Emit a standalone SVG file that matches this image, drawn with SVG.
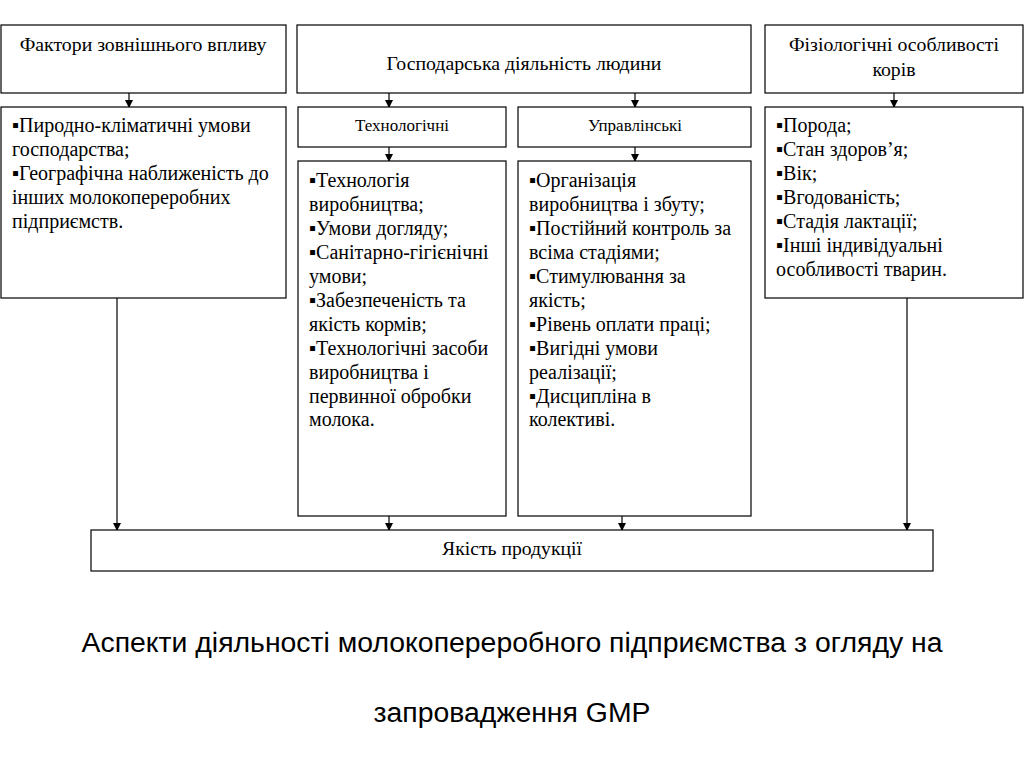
<svg xmlns="http://www.w3.org/2000/svg" width="1024" height="768" viewBox="0 0 1024 768">
<defs>
<marker id="ah" markerWidth="8" markerHeight="8" refX="7" refY="4" orient="auto" markerUnits="userSpaceOnUse">
<path d="M0,0 L8,4 L0,8 Z" fill="#000"/>
</marker>
<style>
rect{fill:#fff;stroke:#000;stroke-width:1.2}
.h{font-family:"Liberation Serif","Times New Roman",serif;font-size:19.8px;fill:#000;text-anchor:middle}
.s{font-family:"Liberation Serif","Times New Roman",serif;font-size:17px;fill:#000;text-anchor:middle}
.l{font-family:"Liberation Serif","Times New Roman",serif;font-size:20px;fill:#000}
.q{font-family:"Liberation Serif","Times New Roman",serif;font-size:19px;fill:#000;text-anchor:middle}
.c{font-family:"Liberation Sans",Arial,sans-serif;font-size:28.4px;fill:#000;text-anchor:middle}
.cn line{stroke:#000;stroke-width:1.2;marker-end:url(#ah)}
</style>
</defs>
<rect x="0" y="0" width="1024" height="768" style="fill:#fff;stroke:none"/>
<g class="cn">
<line x1="129" y1="93" x2="129" y2="107"/>
<line x1="389" y1="93" x2="389" y2="107"/>
<line x1="635" y1="93" x2="635" y2="107"/>
<line x1="894" y1="93" x2="894" y2="107"/>
<line x1="389" y1="147" x2="389" y2="161"/>
<line x1="635" y1="147" x2="635" y2="161"/>
<line x1="117" y1="298" x2="117" y2="530"/>
<line x1="389" y1="516" x2="389" y2="530"/>
<line x1="622" y1="516" x2="622" y2="530"/>
<line x1="907" y1="298" x2="907" y2="530"/>
</g>
<g id="n-external">
<rect x="1" y="25" width="285" height="68"/>
<text class="h" x="143" y="51">Фактори зовнішнього впливу</text>
</g>
<g id="n-activity">
<rect x="297" y="25" width="454" height="68"/>
<text class="h" x="524" y="70">Господарська діяльність людини</text>
</g>
<g id="n-physio">
<rect x="765" y="25" width="258" height="68"/>
<text class="h" x="894" y="51">Фізіологічні особливості</text>
<text class="h" x="894" y="76">корів</text>
</g>
<g id="n-external-list">
<rect x="1" y="107" width="285" height="191"/>
<text class="l" x="12" y="132">▪Пиродно-кліматичні умови</text>
<text class="l" x="12" y="156">господарства;</text>
<text class="l" x="12" y="180">▪Географічна наближеність до</text>
<text class="l" x="12" y="204">інших молокопереробних</text>
<text class="l" x="12" y="228">підприємств.</text>
</g>
<g id="n-tech">
<rect x="298" y="107" width="208" height="40"/>
<text class="s" x="402" y="131">Технологічні</text>
</g>
<g id="n-mgmt">
<rect x="518" y="107" width="233" height="40"/>
<text class="s" x="635" y="131">Управлінські</text>
</g>
<g id="n-tech-list">
<rect x="298" y="161" width="208" height="355"/>
<text class="l" x="309" y="187">▪Технологія</text>
<text class="l" x="309" y="211">виробництва;</text>
<text class="l" x="309" y="235">▪Умови догляду;</text>
<text class="l" x="309" y="259">▪Санітарно-гігієнічні</text>
<text class="l" x="309" y="283">умови;</text>
<text class="l" x="309" y="307">▪Забезпеченість та</text>
<text class="l" x="309" y="331">якість кормів;</text>
<text class="l" x="309" y="355">▪Технологічні засоби</text>
<text class="l" x="309" y="379">виробництва і</text>
<text class="l" x="309" y="403">первинної обробки</text>
<text class="l" x="309" y="426">молока.</text>
</g>
<g id="n-mgmt-list">
<rect x="518" y="161" width="233" height="355"/>
<text class="l" x="529" y="187">▪Організація</text>
<text class="l" x="529" y="211">виробництва і збуту;</text>
<text class="l" x="529" y="235">▪Постійний контроль за</text>
<text class="l" x="529" y="259">всіма стадіями;</text>
<text class="l" x="529" y="283">▪Стимулювання за</text>
<text class="l" x="529" y="307">якість;</text>
<text class="l" x="529" y="331">▪Рівень оплати праці;</text>
<text class="l" x="529" y="355">▪Вигідні умови</text>
<text class="l" x="529" y="379">реалізації;</text>
<text class="l" x="529" y="403">▪Дисципліна в</text>
<text class="l" x="529" y="426">колективі.</text>
</g>
<g id="n-physio-list">
<rect x="765" y="107" width="258" height="191"/>
<text class="l" x="776" y="132">▪Порода;</text>
<text class="l" x="776" y="156">▪Стан здоров’я;</text>
<text class="l" x="776" y="180">▪Вік;</text>
<text class="l" x="776" y="204">▪Вгодованість;</text>
<text class="l" x="776" y="228">▪Стадія лактації;</text>
<text class="l" x="776" y="252">▪Інші індивідуальні</text>
<text class="l" x="776" y="276">особливості тварин.</text>
</g>
<g id="n-quality">
<rect x="91" y="530" width="842" height="41"/>
<text class="q" x="512" y="555" textLength="140" lengthAdjust="spacingAndGlyphs">Якість продукції</text>
</g>
<g id="caption">
<text class="c" x="512" y="652">Аспекти діяльності молокопереробного підприємства з огляду на</text>
<text class="c" x="512" y="722">запровадження GMP</text>
</g>
</svg>
